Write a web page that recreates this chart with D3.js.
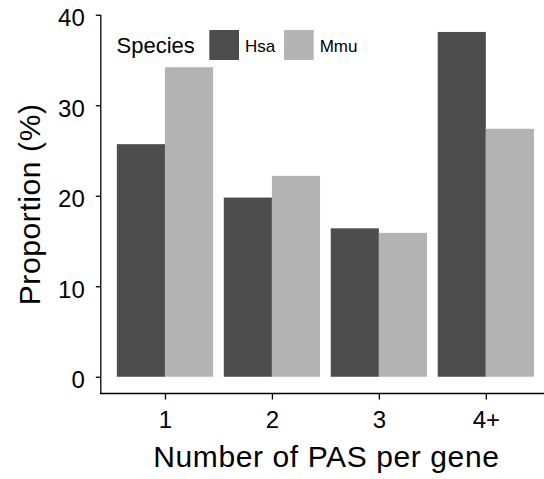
<!DOCTYPE html>
<html>
<head>
<meta charset="utf-8">
<script src="https://cdn.jsdelivr.net/npm/d3@7"></script>
<style>
  body { margin: 0; background: #fff; }
  text { font-family: "Liberation Sans", Arial, Helvetica, sans-serif; fill: #000; }
</style>
</head>
<body>
<svg id="chart" width="544" height="479"></svg>
<script>
const categories = ["1", "2", "3", "4+"];
const species = ["Hsa", "Mmu"];
const hsaValues = [25.7, 19.8, 16.4, 38.1];
const mmuValues = [34.2, 22.2, 15.9, 27.4];
const yTicks = [0, 10, 20, 30, 40];
const colors = ["#4d4d4d", "#b3b3b3"];

const svg = d3.select("#chart");

const panelLeft = 100.8, panelRight = 550, panelTop = 14.7, panelBottom = 394;

// discrete x scale with ggplot-style 0.6 expansion
const xPos = d3.scalePoint().domain(categories).range([panelLeft, panelRight]).padding(0.6);
const step = xPos.step();
const x1 = d3.scaleBand().domain(species).range([-0.45 * step, 0.45 * step]).padding(0);

const yMax = d3.max(hsaValues.concat(mmuValues));
const pad = yMax * 0.05;
const y = d3.scaleLinear().domain([-pad, yMax + pad]).range([panelBottom, panelTop]);

const rows = categories.map((c, i) => ({ cat: c, vals: [hsaValues[i], mmuValues[i]] }));

// bars
const g = svg.append("g");
rows.forEach(r => {
  r.vals.forEach((v, j) => {
    g.append("rect")
      .attr("x", xPos(r.cat) + x1(species[j]))
      .attr("width", x1.bandwidth())
      .attr("y", y(v))
      .attr("height", y(0) - y(v))
      .attr("fill", colors[j]);
  });
});

// y axis
const yAxis = d3.axisLeft(y).tickValues(yTicks).tickSize(5).tickPadding(11).tickSizeOuter(0);
const yg = svg.append("g").attr("transform", `translate(${panelLeft},0)`).call(yAxis);
yg.select(".domain").attr("d", `M0,${panelTop}V${panelBottom}`).attr("stroke", "#000").attr("stroke-width", 1.3);
yg.selectAll(".tick line").attr("stroke", "#000").attr("stroke-width", 1.3);
yg.selectAll(".tick text").attr("font-size", 24).attr("dy", "11px")
  .style("font-family", "'Liberation Sans', Arial, sans-serif").attr("fill", "#000");

// x axis
const xAxis = d3.axisBottom(xPos).tickSize(6).tickPadding(4).tickSizeOuter(0);
const xg = svg.append("g").attr("transform", `translate(0,${panelBottom - 0.5})`).call(xAxis);
xg.select(".domain").attr("d", `M${panelLeft - 0.65},0H${panelRight}`).attr("stroke", "#000").attr("stroke-width", 1.3);
xg.selectAll(".tick line").attr("stroke", "#000").attr("stroke-width", 1.3);
xg.selectAll(".tick text").attr("font-size", 24).attr("y", 34.5).attr("dy", "0")
  .style("font-family", "'Liberation Sans', Arial, sans-serif").attr("fill", "#000");

// axis titles
svg.append("text")
  .attr("x", (panelLeft + panelRight) / 2 + 1)
  .attr("y", 467)
  .attr("text-anchor", "middle")
  .attr("font-size", 30)
  .style("letter-spacing", "0.6px")
  .text("Number of PAS per gene");

svg.append("text")
  .attr("transform", `translate(40,${(panelTop + panelBottom) / 2}) rotate(-90)`)
  .attr("text-anchor", "middle")
  .attr("font-size", 30)
  .style("letter-spacing", "0.6px")
  .text("Proportion (%)");

// legend
const lg = svg.append("g");
lg.append("text").attr("x", 116.5).attr("y", 53.3).attr("font-size", 22).text("Species");
const keyX = [209.3, 284];
species.forEach((s, j) => {
  lg.append("rect").attr("x", keyX[j]).attr("y", 30).attr("width", 29.7).attr("height", 30).attr("fill", colors[j]);
  lg.append("text").attr("x", keyX[j] + 35.7).attr("y", 52).attr("font-size", 17).text(s);
});
</script>
</body>
</html>
